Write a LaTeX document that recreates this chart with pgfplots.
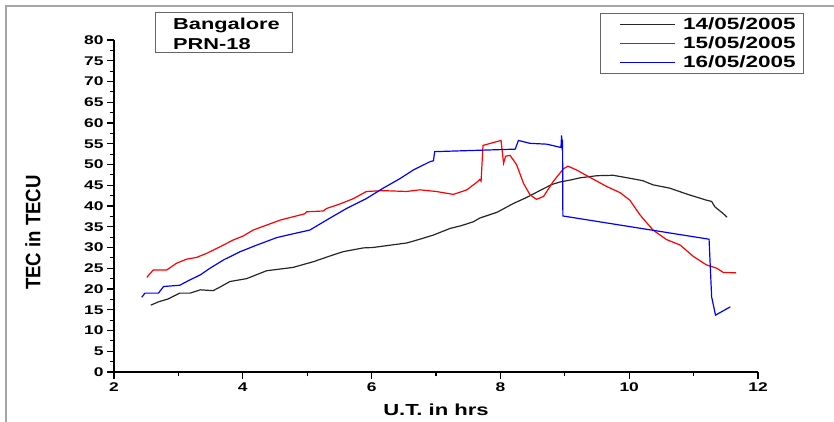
\documentclass[border=0pt]{standalone}
\usepackage{fontspec}
\setmainfont{Liberation Sans}[FakeStretch=1.38]
\newfontfamily\yfont{Liberation Sans}[FakeStretch=0.89]
\usepackage{pgfplots}
\pgfplotsset{compat=1.18}
\begin{document}
\begin{tikzpicture}
\begin{axis}[
 scale only axis, width=644pt, height=332pt,
 xmin=2, xmax=12, ymin=0, ymax=80,
 axis x line*=bottom, axis y line*=left,
 axis line style={-, line width=1.3pt, black},
 xtick={2,4,...,12}, minor xtick={3,5,...,11},
 ytick={0,5,...,80}, minor ytick={2.5,7.5,...,77.5},
 tick align=outside, major tick length=7pt, minor tick length=4.5pt,
 tick style={line width=1.1pt, black},
 /pgf/number format/assume math mode=true,
 ticklabel style={font=\bfseries\fontsize{12.6}{14}\selectfont},
 xlabel={U.T. in hrs}, ylabel={TEC in TECU},
 xlabel style={font=\bfseries\fontsize{16}{18}\selectfont, at={(axis description cs:0.5,-0.1145)}, anchor=center},
 ylabel style={font=\yfont\bfseries\fontsize{20.9}{22}\selectfont, at={(axis description cs:-0.126,0.42)}, anchor=center},
 legend style={at={(axis description cs:1.0714,1.0813)}, anchor=north east,
   draw=gray!80!black, line width=0.8pt,
   font=\bfseries\fontsize{16.3}{18}\selectfont,
   inner xsep=8pt, inner ysep=4.5pt, row sep=5.5pt, column sep=7pt,
   nodes={inner sep=0pt}},
 legend cell align=left,
 legend image code/.code={\path (0pt,0pt); \draw[#1, line width=1.2pt] (11pt,0pt) -- (66pt,0pt);},
]
\addplot[black!85, line width=1.2pt] coordinates {
(2.57,16.1)(2.69,16.9)(2.84,17.6)(2.93,18.3)(3.02,19.0)(3.18,19.0)(3.34,19.8)(3.54,19.6)(3.65,20.5)(3.80,21.8)(4.06,22.5)(4.37,24.4)(4.78,25.2)(5.10,26.6)(5.40,28.2)(5.56,29.0)(5.87,29.9)(6.02,30.0)(6.55,31.1)(6.75,32.0)(6.96,33.0)(7.22,34.6)(7.40,35.3)(7.58,36.2)(7.68,37.1)(7.95,38.5)(8.20,40.6)(8.40,42.0)(8.61,43.7)(8.80,45.2)(8.93,45.8)(9.10,46.3)(9.24,46.8)(9.50,47.3)(9.75,47.4)(9.97,46.8)(10.21,46.1)(10.37,45.1)(10.63,44.3)(10.89,42.9)(11.20,41.4)(11.28,41.1)(11.33,39.8)(11.45,38.3)(11.52,37.3)
};
\addlegendentry{14/05/2005}
\addplot[red, line width=1.2pt] coordinates {
(2.51,22.8)(2.61,24.6)(2.82,24.6)(2.97,26.2)(3.13,27.2)(3.28,27.6)(3.44,28.6)(3.65,30.2)(3.85,31.8)(4.01,32.8)(4.16,34.2)(4.37,35.4)(4.58,36.6)(4.78,37.4)(4.96,38.1)(4.99,38.6)(5.25,38.8)(5.30,39.4)(5.51,40.5)(5.72,41.8)(5.92,43.5)(6.18,43.7)(6.54,43.5)(6.75,43.9)(7.00,43.5)(7.27,42.8)(7.48,43.9)(7.64,45.8)(7.68,46.4)(7.70,46.0)(7.73,54.6)(8.01,55.8)(8.03,53.0)(8.05,50.3)(8.08,52.0)(8.15,52.2)(8.25,50.0)(8.36,45.4)(8.46,42.7)(8.56,41.6)(8.67,42.3)(8.82,45.9)(8.98,49.0)(9.05,49.6)(9.18,48.7)(9.39,46.9)(9.65,44.7)(9.86,43.2)(10.01,41.4)(10.17,37.8)(10.37,34.2)(10.58,31.9)(10.79,30.6)(11.00,27.8)(11.20,25.8)(11.36,25.0)(11.46,24.0)(11.66,23.9)
};
\addlegendentry{15/05/2005}
\addplot[blue, line width=1.2pt] coordinates {
(2.43,18.0)(2.48,19.0)(2.69,19.0)(2.77,20.6)(3.02,20.9)(3.18,22.2)(3.34,23.4)(3.49,25.0)(3.70,27.0)(3.96,29.0)(4.22,30.6)(4.53,32.4)(4.78,33.3)(5.04,34.2)(5.30,36.6)(5.61,39.4)(5.92,41.8)(6.18,44.3)(6.44,46.6)(6.65,48.7)(6.91,50.7)(6.96,50.9)(6.98,53.1)(8.23,53.7)(8.28,55.8)(8.46,55.1)(8.72,54.9)(8.94,54.1)(8.95,57.0)(8.96,53.5)(8.965,56.0)(8.97,37.6)(9.86,35.4)(11.24,32.0)(11.28,18.1)(11.34,13.7)(11.57,15.7)
};
\addlegendentry{16/05/2005}
\end{axis}
\draw[gray!70, line width=1.5pt] (-108pt,-50pt) -- (-108pt,366pt) -- (720pt,366pt);
\draw[gray!80!black, line width=0.8pt] (41pt,320pt) rectangle (178pt,360pt);
\node[anchor=west, inner sep=0pt, font=\bfseries\fontsize{15.8}{17}\selectfont] at (59pt,347pt) {Bangalore};
\node[anchor=west, inner sep=0pt, font=\bfseries\fontsize{15.8}{17}\selectfont] at (59pt,328.3pt) {PRN-18};
\pgfresetboundingbox
\path (-114pt,-50pt) rectangle (720pt,372pt);
\end{tikzpicture}
\end{document}
